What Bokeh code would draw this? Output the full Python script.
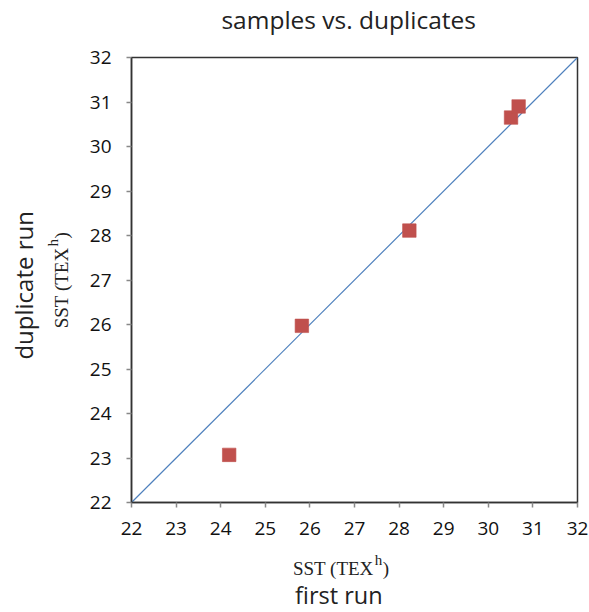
import math
from bokeh.plotting import figure
from bokeh.models import LinearAxis, FixedTicker, Range1d
from bokeh.core.properties import value
from bokeh.embed import file_html
from bokeh.resources import INLINE

# data
first_run = [24.19, 25.82, 28.23, 30.51, 30.68]
duplicate_run = [23.07, 25.97, 28.11, 30.65, 30.90]
line_x = [22, 32]
line_y = [22, 32]
ticks = list(range(22, 33))

title_text = "samples vs. duplicates"
sst_main = "SST (TEX"
sst_sup = "h"
sst_close = ")"
x_label_2 = "first run"
y_label_2 = "duplicate run"

SANS = "Open Sans"
SERIF = "Liberation Serif"
TXT = "#222222"

p = figure(width=589, height=612, output_backend="svg", toolbar_location=None,
           x_range=Range1d(22, 32), y_range=Range1d(22, 32),
           min_border_left=131, min_border_right=12, min_border_top=57,
           min_border_bottom=110, x_axis_location=None, y_axis_location=None)

p.grid.visible = False
p.outline_line_color = "#333333"
p.outline_line_width = 1.5
p.background_fill_color = "white"
p.border_fill_color = "white"


def style_axis(ax, standoff):
    ax.ticker = FixedTicker(ticks=ticks)
    ax.major_label_text_font = SANS
    ax.major_label_text_font_size = "19px"
    ax.major_label_text_color = "#111111"
    ax.major_label_standoff = standoff
    ax.major_tick_out = 5
    ax.major_tick_in = 0
    ax.major_tick_line_color = "#888888"
    ax.major_tick_line_width = 1.5
    ax.minor_tick_line_color = None
    ax.axis_line_color = "#333333"
    ax.axis_line_width = 1.5


xa = LinearAxis()
style_axis(xa, 14)
p.add_layout(xa, "below")
ya = LinearAxis()
style_axis(ya, 15)
p.add_layout(ya, "left")

p.line(line_x, line_y, line_color="#4F81BD", line_width=1.2)
p.scatter(first_run, duplicate_run, marker="square", size=13.5,
          fill_color="#C0504D", line_color="#C0504D", line_alpha=0.6)


def add_text(text, x, y, xo, yo, font, size, align, angle=0.0):
    p.text(x=[x], y=[y], text=[text], x_offset=xo, y_offset=yo,
           text_font=value(font), text_font_size=size, text_color=TXT,
           text_align=align, text_baseline="alphabetic", angle=angle,
           level="overlay")


# title
add_text(title_text, 26.87, 32, 0, -38.5, SANS, "24.5px", "center")

# x axis titles
add_text(sst_main, 27.43, 22, 0, 66, SERIF, "19px", "right")
add_text(sst_sup, 27.43, 22, 1, 57, SERIF, "15px", "left")
add_text(sst_close, 27.43, 22, 9, 66, SERIF, "19px", "left")
add_text(x_label_2, 26.65, 22, 0, 92, SANS, "23.5px", "center")

# y axis titles
r = math.pi / 2
add_text(sst_main, 22, 27.73, -69.7, 0, SERIF, "19px", "right", r)
add_text(sst_sup, 22, 27.73, -78.7, -1, SERIF, "15px", "left", r)
add_text(sst_close, 22, 27.73, -69.7, -9, SERIF, "19px", "left", r)
add_text(y_label_2, 22, 26.88, -108, 0, SANS, "24px", "center", r)

open("out.html", "w").write(file_html(p, INLINE))
